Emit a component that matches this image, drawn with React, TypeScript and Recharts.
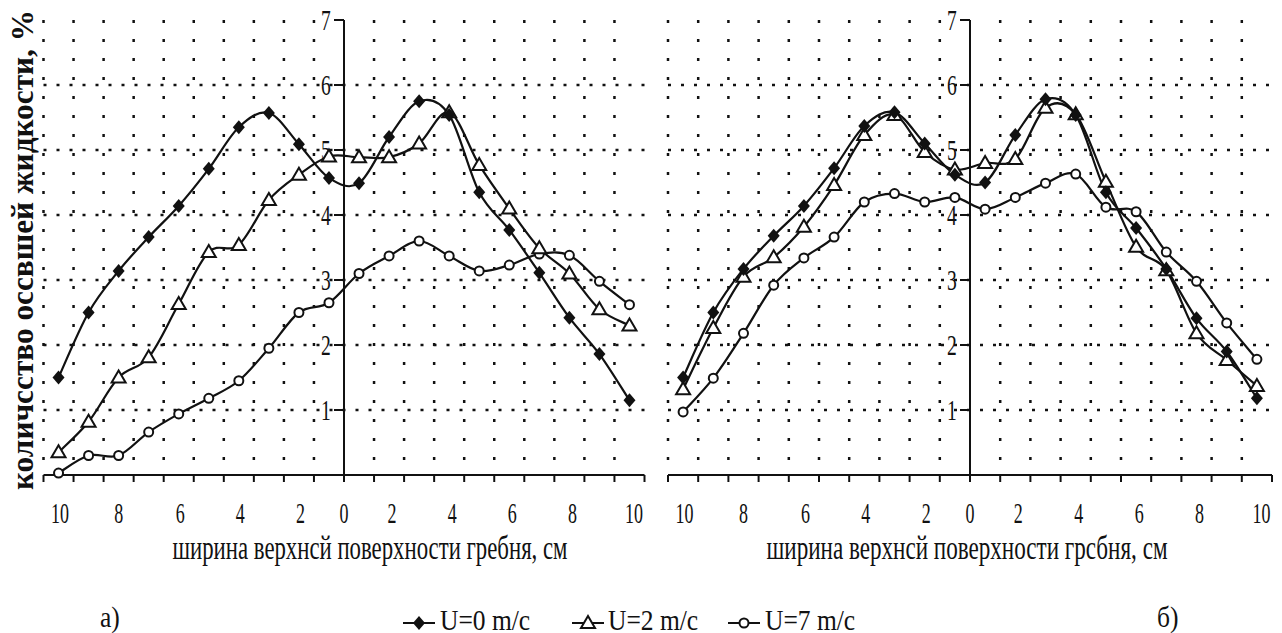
import React from 'react';
import {
  ComposedChart,
  Line,
  XAxis,
  YAxis,
  CartesianGrid,
  ReferenceLine,
  ReferenceDot,
} from 'recharts';

// positions of the measuring points across the ridge, cm
const xPositions = [-9.5, -8.5, -7.5, -6.5, -5.5, -4.5, -3.5, -2.5, -1.5, -0.5, 0.5, 1.5, 2.5, 3.5, 4.5, 5.5, 6.5, 7.5, 8.5, 9.5];

// panel а)
const aU0 = [1.5, 2.5, 3.14, 3.66, 4.14, 4.71, 5.35, 5.57, 5.09, 4.57, 4.49, 5.2, 5.75, 5.54, 4.35, 3.77, 3.11, 2.42, 1.86, 1.15];
const aU2 = [0.35, 0.82, 1.5, 1.81, 2.63, 3.43, 3.54, 4.23, 4.62, 4.9, 4.89, 4.89, 5.1, 5.58, 4.77, 4.1, 3.49, 3.1, 2.55, 2.3];
const aU7 = [0.03, 0.3, 0.3, 0.66, 0.94, 1.18, 1.45, 1.95, 2.5, 2.65, 3.1, 3.37, 3.6, 3.37, 3.14, 3.23, 3.4, 3.38, 2.98, 2.62];

// panel б)
const bU0 = [1.5, 2.5, 3.17, 3.68, 4.14, 4.72, 5.37, 5.58, 5.1, 4.62, 4.5, 5.23, 5.78, 5.54, 4.35, 3.8, 3.17, 2.41, 1.9, 1.18];
const bU2 = [1.32, 2.26, 3.05, 3.35, 3.82, 4.46, 5.23, 5.54, 4.97, 4.7, 4.8, 4.86, 5.65, 5.55, 4.51, 3.51, 3.15, 2.18, 1.77, 1.37];
const bU7 = [0.97, 1.49, 2.18, 2.92, 3.34, 3.66, 4.2, 4.33, 4.2, 4.27, 4.09, 4.27, 4.49, 4.63, 4.12, 4.05, 3.43, 2.98, 2.34, 1.78];

const xTicks = [-10, -9, -8, -7, -6, -5, -4, -3, -2, -1, 0, 1, 2, 3, 4, 5, 6, 7, 8, 9, 10];
const gridX = [-10, -9, -8, -7, -6, -5, -4, -3, -2, -1, 1, 2, 3, 4, 5, 6, 7, 8, 9];
const gridY = [1, 2, 3, 4, 5, 6];
const yTicks = [1, 2, 3, 4, 5, 6, 7];
const labelPos = [-9.45, -7.5, -5.45, -3.45, -1.45, 0, 1.6, 3.6, 5.6, 7.6, 9.65];
const labelText = ['10', '8', '6', '4', '2', '0', '2', '4', '6', '8', '10'];
const legendNames = ['U=0 m/c', 'U=2 m/c', 'U=7 m/c'];

const FONT = '"Liberation Serif", "Times New Roman", serif';
const INK = '#111';

// Excel-like smoothed line (Catmull-Rom through the points)
const excelCurve = (context: any) => {
  let pts: number[][] = [];
  return {
    areaStart() {},
    areaEnd() {},
    lineStart() {
      pts = [];
    },
    point(x: number, y: number) {
      pts.push([+x, +y]);
    },
    lineEnd() {
      if (!pts.length) return;
      context.moveTo(pts[0][0], pts[0][1]);
      for (let i = 0; i < pts.length - 1; i++) {
        const p0 = pts[Math.max(i - 1, 0)];
        const p1 = pts[i];
        const p2 = pts[i + 1];
        const p3 = pts[Math.min(i + 2, pts.length - 1)];
        context.bezierCurveTo(
          p1[0] + (p2[0] - p0[0]) / 6,
          p1[1] + (p2[1] - p0[1]) / 6,
          p2[0] - (p3[0] - p1[0]) / 6,
          p2[1] - (p3[1] - p1[1]) / 6,
          p2[0],
          p2[1]
        );
      }
    },
  };
};

const Diamond = ({ cx, cy }: any) => (
  <polygon points={`${cx},${cy - 7} ${cx + 6},${cy} ${cx},${cy + 7} ${cx - 6},${cy}`} fill={INK} />
);
const Triangle = ({ cx, cy }: any) => (
  <polygon
    points={`${cx},${cy - 7} ${cx + 7},${cy + 5} ${cx - 7},${cy + 5}`}
    fill="#fff"
    stroke={INK}
    strokeWidth={2}
  />
);
const Ring = ({ cx, cy }: any) => <circle cx={cx} cy={cy} r={4.5} fill="#fff" stroke={INK} strokeWidth={2} />;

const markers = [Diamond, Triangle, Ring];

// x labels sit under the axis, between the tick marks
const xLabelShape = (t: string) => (p: any) => (
  <text
    transform={`translate(${p.cx},${p.cy + 48}) scale(0.6,1)`}
    textAnchor="middle"
    fontFamily={FONT}
    fontSize={30}
    fill={INK}
  >
    {t}
  </text>
);

const yTickShape = (v: number) => (p: any) => (
  <g>
    <line x1={p.cx - 10} y1={p.cy} x2={p.cx} y2={p.cy} stroke={INK} strokeWidth={2} />
    <text
      transform={`translate(${p.cx - 18},${p.cy + 10}) scale(0.65,1)`}
      textAnchor="middle"
      fontFamily={FONT}
      fontSize={30}
      fill={INK}
    >
      {v}
    </text>
  </g>
);

const Panel = ({ u0, u2, u7, left, width, margin }: any) => {
  const data = xPositions.map((x, i) => ({ x, u0: u0[i], u2: u2[i], u7: u7[i] }));
  const keys = ['u0', 'u2', 'u7'];
  return (
    <div style={{ position: 'absolute', left, top: 0 }}>
      <ComposedChart width={width} height={560} data={data} margin={margin}>
        <CartesianGrid
          horizontal={false}
          verticalValues={gridX}
          stroke={INK}
          strokeWidth={2.5}
          strokeDasharray="3 16"
        />
        <CartesianGrid
          vertical={false}
          horizontalValues={gridY}
          stroke={INK}
          strokeWidth={2.5}
          strokeDasharray="3 10"
        />
        <XAxis
          dataKey="x"
          type="number"
          domain={[-10, 10]}
          ticks={xTicks}
          interval={0}
          tickFormatter={() => ''}
          height={85}
          tickSize={7}
          axisLine={{ stroke: INK, strokeWidth: 2 }}
          tickLine={{ stroke: INK, strokeWidth: 2 }}
        />
        <YAxis type="number" domain={[0, 7]} ticks={yTicks} hide />
        <ReferenceLine x={0} stroke={INK} strokeWidth={2} />
        {yTicks.map((v) => (
          <ReferenceDot key={`y${v}`} x={0} y={v} r={0} shape={yTickShape(v)} />
        ))}
        {labelPos.map((pos, i) => (
          <ReferenceDot key={`x${i}`} x={pos} y={0} r={0} shape={xLabelShape(labelText[i])} />
        ))}
        {[2, 1, 0].map((k) => {
          const M = markers[k];
          return (
            <Line
              key={keys[k]}
              dataKey={keys[k]}
              type={excelCurve as any}
              stroke={INK}
              strokeWidth={2.2}
              isAnimationActive={false}
              dot={(p: any) => <M key={`${keys[k]}-${p.index}`} cx={p.cx} cy={p.cy} />}
              activeDot={false}
            />
          );
        })}
      </ComposedChart>
    </div>
  );
};

const legendLine = [403, 572, 728];
const legendText = [440, 608, 765];

export default function App() {
  return (
    <div
      style={{
        position: 'absolute',
        left: 0,
        top: 0,
        width: 1282,
        height: 633,
        background: '#fff',
        overflow: 'hidden',
      }}
    >
      <Panel u0={aU0} u2={aU2} u7={aU7} left={0} width={660} margin={{ top: 20, right: 15.5, bottom: 0, left: 43.5 }} />
      <Panel u0={bU0} u2={bU2} u7={bU7} left={640} width={642} margin={{ top: 20, right: 10, bottom: 0, left: 28 }} />
      <svg width={1282} height={633} style={{ position: 'absolute', left: 0, top: 0, pointerEvents: 'none' }}>
        <text
          transform="translate(33,250) rotate(-90)"
          textAnchor="middle"
          fontFamily={FONT}
          fontWeight="bold"
          fontSize={31}
          textLength={480}
          lengthAdjust="spacingAndGlyphs"
          fill={INK}
        >
          количсство оссвшей жидкости, %
        </text>
        <text x={370} y={559} textAnchor="middle" fontFamily={FONT} fontSize={34} textLength={395} lengthAdjust="spacingAndGlyphs" fill={INK}>
          ширина верхнсй поверхности гребня, см
        </text>
        <text x={967} y={559} textAnchor="middle" fontFamily={FONT} fontSize={34} textLength={401} lengthAdjust="spacingAndGlyphs" fill={INK}>
          ширина верхнсй поверхности грсбня, см
        </text>
        <text transform="translate(100,627) scale(0.85,1)" fontFamily={FONT} fontSize={30} fill={INK}>
          а)
        </text>
        <text transform="translate(1157,627) scale(0.85,1)" fontFamily={FONT} fontSize={30} fill={INK}>
          б)
        </text>
        {legendNames.map((name, i) => {
          const M = markers[i];
          const lx = legendLine[i];
          return (
            <g key={name}>
              <line x1={lx} y1={623} x2={lx + 32} y2={623} stroke={INK} strokeWidth={2} />
              <M cx={lx + 16} cy={623} />
              <text
                transform={`translate(${legendText[i]},630) scale(0.85,1)`}
                fontFamily={FONT}
                fontSize={30}
                fill={INK}
              >
                {name}
              </text>
            </g>
          );
        })}
      </svg>
    </div>
  );
}
